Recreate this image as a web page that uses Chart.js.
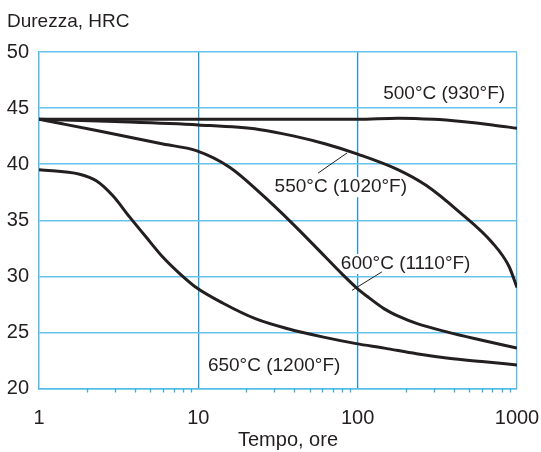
<!DOCTYPE html>
<html>
<head>
<meta charset="utf-8">
<script src="https://cdn.jsdelivr.net/npm/chart.js"></script>
<style>
  html, body { margin: 0; padding: 0; background: #fff; }
  #wrap { width: 541px; height: 452px; }
</style>
</head>
<body>
<div id="wrap"><canvas id="chart" width="541" height="452"></canvas></div>
<script>
// Dati (tempo in ore, durezza HRC)
const xTicks = [1, 10, 100, 1000];
const yMin = 20, yMax = 50, yStep = 5;

const t500 = [1, 10, 100, 180, 300, 450, 700, 1000];
const h500 = [44.0, 44.0, 44.0, 44.1, 44.0, 43.8, 43.5, 43.2];

const t550 = [1, 3, 10, 24, 40, 63, 100, 180, 270, 430, 700, 890, 1000];
const h550 = [44.0, 43.8, 43.5, 43.1, 42.5, 41.8, 40.9, 39.5, 38.1, 35.8, 33.0, 30.9, 29.0];

const t600 = [1, 1.4, 2.3, 6, 9.7, 15.8, 25, 39, 63, 80, 98, 115, 147, 183, 234, 372, 603, 1000];
const h600 = [44.0, 43.6, 43.0, 41.8, 41.2, 39.7, 37.3, 34.7, 31.7, 30.2, 29.0, 28.2, 27.1, 26.4, 25.8, 25.0, 24.3, 23.6];

const t650 = [1, 1.8, 2.3, 2.9, 3.7, 4.7, 6, 7.7, 9.7, 14.3, 23, 37, 60, 98, 147, 234, 372, 603, 1000];
const h650 = [39.5, 39.1, 38.5, 37.2, 35.3, 33.5, 31.7, 30.2, 29.0, 27.6, 26.2, 25.3, 24.6, 24.0, 23.6, 23.1, 22.7, 22.4, 22.1];

// Etichette delle curve (posizione in coordinate dati)
const curveLabels = [
  { text: '500°C (930°F)', t: 349, h: 46.3, knock: false },
  { text: '550°C (1020°F)', t: 78.4, h: 37.95, knock: true, lead: [56.4, 39.2, 85.8, 41.0] },
  { text: '600°C (1110°F)', t: 200, h: 31.1, knock: true, lead: [142, 30.4, 92.2, 28.75] },
  { text: '650°C (1200°F)', t: 29.9, h: 22.05, knock: false }
];

const FAMILY = '"Liberation Sans", Arial, Helvetica, sans-serif';
const FONT = '19px ' + FAMILY;
const TEXT = '#231f20';
const LIGHT = '#66c3ec';
const DARK = '#1f97d4';
const BORDER = '#55bbe8';

function pts(t, h) {
  return t.map((v, i) => ({ x: v, y: h[i] }));
}

function ds(t, h) {
  return {
    data: pts(t, h),
    borderColor: '#231f20',
    borderWidth: 3,
    pointRadius: 0,
    fill: false,
    cubicInterpolationMode: 'monotone'
  };
}

const extras = {
  id: 'extras',
  beforeDatasetsDraw(chart) {
    const ctx = chart.ctx;
    const xs = chart.scales.x, ys = chart.scales.y;
    const area = chart.chartArea;
    ctx.save();
    // tacche minori sull'asse x
    ctx.strokeStyle = '#3aaee3';
    ctx.lineWidth = 1.3;
    [1, 10, 100].forEach(d => {
      for (let k = 2; k <= 9; k++) {
        const px = Math.round(xs.getPixelForValue(d * k)) + 0.5;
        ctx.beginPath();
        ctx.moveTo(px, area.bottom);
        ctx.lineTo(px, area.bottom + 4);
        ctx.stroke();
      }
    });
    // etichette curve
    ctx.font = FONT;
    ctx.textAlign = 'center';
    ctx.textBaseline = 'middle';
    curveLabels.forEach(l => {
      const px = xs.getPixelForValue(l.t);
      const py = ys.getPixelForValue(l.h);
      if (l.knock) {
        const w = ctx.measureText(l.text).width;
        ctx.fillStyle = '#fff';
        ctx.fillRect(px - w / 2 - 2, py - 10, w + 4, 20);
      }
      ctx.fillStyle = TEXT;
      ctx.fillText(l.text, px, py);
      if (l.lead) {
        ctx.strokeStyle = TEXT;
        ctx.lineWidth = 1;
        ctx.beginPath();
        ctx.moveTo(xs.getPixelForValue(l.lead[0]), ys.getPixelForValue(l.lead[1]));
        ctx.lineTo(xs.getPixelForValue(l.lead[2]), ys.getPixelForValue(l.lead[3]));
        ctx.stroke();
      }
    });
    ctx.restore();
  },
  afterDraw(chart) {
    const ctx = chart.ctx;
    ctx.save();
    ctx.font = FONT;
    ctx.fillStyle = TEXT;
    ctx.textBaseline = 'alphabetic';
    ctx.textAlign = 'left';
    ctx.fillText('Durezza, HRC', 7, 27);
    ctx.textAlign = 'center';
    ctx.font = '20px ' + FAMILY;
    ctx.fillText('Tempo, ore', 288, 446);
    ctx.restore();
  }
};

new Chart(document.getElementById('chart'), {
  type: 'line',
  data: {
    datasets: [ds(t500, h500), ds(t550, h550), ds(t600, h600), ds(t650, h650)]
  },
  plugins: [extras],
  options: {
    responsive: false,
    animation: false,
    layout: { padding: { top: 52, right: 24, left: 0, bottom: 0 } },
    plugins: { legend: { display: false }, tooltip: { enabled: false } },
    scales: {
      x: {
        type: 'logarithmic',
        min: 1,
        max: 1000,
        afterBuildTicks: s => { s.ticks = xTicks.map(v => ({ value: v })); },
        afterFit: s => { s.height = 63.5; s.paddingLeft = 0; s.paddingRight = 0; },
        ticks: {
          autoSkip: false,
          maxRotation: 0,
          padding: 18,
          color: TEXT,
          font: { family: FAMILY, size: 20 },
          callback: v => String(v)
        },
        grid: {
          drawTicks: false,
          lineWidth: 1.3,
          color: c => {
            const v = c.tick && c.tick.value;
            if (v === 10 || v === 100) return DARK;
            if (v === 1000) return BORDER;
            return 'rgba(0,0,0,0)';
          }
        },
        border: { display: true, color: BORDER, width: 1.5 }
      },
      y: {
        min: yMin,
        max: yMax,
        afterFit: s => { s.width = 39; },
        ticks: {
          stepSize: yStep,
          padding: 10,
          color: TEXT,
          font: { family: FAMILY, size: 20 }
        },
        grid: { drawTicks: false, lineWidth: 1.5, color: LIGHT },
        border: { display: true, color: BORDER, width: 1.5 }
      }
    }
  }
});
</script>
</body>
</html>
